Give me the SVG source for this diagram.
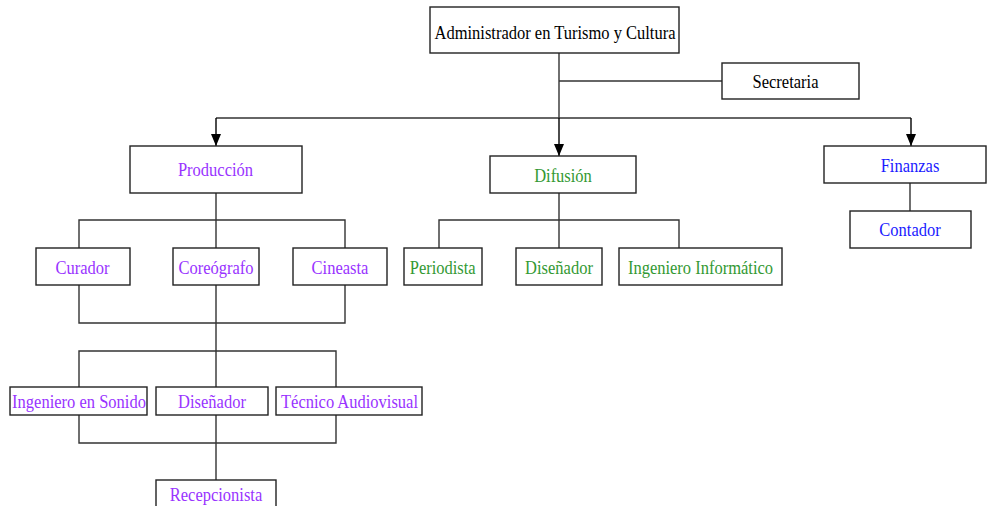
<svg xmlns="http://www.w3.org/2000/svg" width="987" height="506" viewBox="0 0 987 506">
<defs>
<marker id="arr" markerUnits="userSpaceOnUse" markerWidth="12" markerHeight="12" viewBox="0 0 12 12" refX="12" refY="6" orient="auto">
<path d="M0,1 L12,6 L0,11 Z" fill="#000"/>
</marker>
<style>
rect{fill:#fff;stroke:#222;stroke-width:1.4}
text{font-family:"Liberation Serif","Times New Roman",serif;font-size:16.5px;text-anchor:middle}
.k{fill:#000}
.p{fill:#9933ff}
.g{fill:#339933}
.b{fill:#1a1aff}
#connectors path{fill:none;stroke:#333;stroke-width:1.4}
#connectors path.a{stroke:#000;marker-end:url(#arr)}
</style>
</defs>
<rect x="0" y="0" width="987" height="506" style="fill:#fff;stroke:none"/>
<g id="connectors">
<path d="M559,53 V118"/>
<path d="M559,81 H722"/>
<path d="M216,118 H911"/>
<path class="a" d="M216,118 V146"/>
<path class="a" d="M559,118 V156"/>
<path class="a" d="M911,118 V146"/>
<path d="M216,193 V248 M79,248 V220 H345 V248"/>
<path d="M559,193 V248 M439,248 V220 H679 V248"/>
<path d="M910,183 V211"/>
<path d="M79,285 V323 H345 V285 M216,285 V387"/>
<path d="M79,387 V351 H336 V387"/>
<path d="M79,415 V443 H336 V415 M216,415 V480"/>
</g>
<g id="admin"><rect x="430" y="7" width="249" height="46"/><text class="k" transform="translate(555,39) scale(1,1.14)">Administrador en Turismo y Cultura</text></g>
<g id="secretaria"><rect x="722" y="63" width="137" height="36"/><text class="k" transform="translate(785.5,88) scale(1,1.14)">Secretaria</text></g>
<g id="produccion"><rect x="130" y="146" width="172" height="47"/><text class="p" transform="translate(215.5,176) scale(1,1.14)">Producción</text></g>
<g id="difusion"><rect x="490" y="156" width="146" height="37"/><text class="g" transform="translate(563,181.5) scale(1,1.14)">Difusión</text></g>
<g id="finanzas"><rect x="824" y="146" width="162" height="37"/><text class="b" transform="translate(910,172) scale(1,1.14)">Finanzas</text></g>
<g id="contador"><rect x="850" y="211" width="121" height="37"/><text class="b" transform="translate(910,236) scale(1,1.14)">Contador</text></g>
<g id="curador"><rect x="36" y="248" width="94" height="37"/><text class="p" transform="translate(82.5,274) scale(1,1.14)">Curador</text></g>
<g id="coreografo"><rect x="173" y="248" width="86" height="37"/><text class="p" transform="translate(216,274) scale(1,1.14)">Coreógrafo</text></g>
<g id="cineasta"><rect x="293" y="248" width="94" height="37"/><text class="p" transform="translate(340,274) scale(1,1.14)">Cineasta</text></g>
<g id="periodista"><rect x="404" y="248" width="78" height="37"/><text class="g" transform="translate(442.7,274) scale(1,1.14)">Periodista</text></g>
<g id="disenador-d"><rect x="516" y="248" width="86" height="37"/><text class="g" transform="translate(559,274) scale(1,1.14)">Diseñador</text></g>
<g id="informatico"><rect x="619" y="248" width="163" height="37"/><text class="g" transform="translate(700.5,274) scale(1,1.14)">Ingeniero Informático</text></g>
<g id="sonido"><rect x="10" y="387" width="137" height="28"/><text class="p" transform="translate(79,408) scale(1,1.14)">Ingeniero en Sonido</text></g>
<g id="disenador-p"><rect x="156" y="387" width="112" height="28"/><text class="p" transform="translate(212,408) scale(1,1.14)">Diseñador</text></g>
<g id="tecnico"><rect x="276" y="387" width="146" height="28"/><text class="p" transform="translate(349.5,408) scale(1,1.14)">Técnico Audiovisual</text></g>
<g id="recepcionista"><rect x="156" y="480" width="120" height="40"/><text class="p" transform="translate(216,501) scale(1,1.14)">Recepcionista</text></g>
</svg>
